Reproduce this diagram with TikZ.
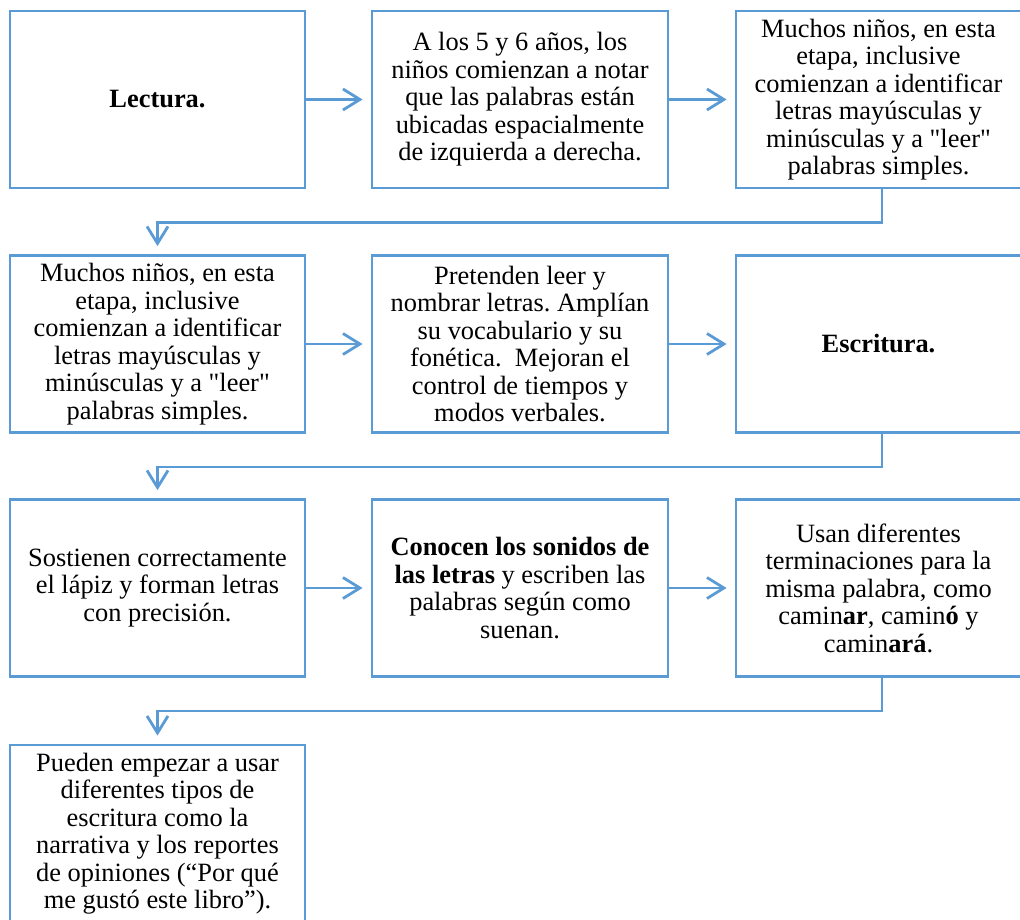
\documentclass[tikz,border=0pt]{standalone}
\usepackage{fontspec}
\setmainfont{Liberation Serif}
\usetikzlibrary{arrows.meta}
\definecolor{boxblue}{RGB}{91,155,213}
\frenchspacing

\begin{document}
\begin{tikzpicture}[x=0.5pt,y=-0.5pt,
    box/.style={draw=boxblue, line width=1.4pt, align=center, inner sep=0pt,
      minimum height=88.5pt, font=\fontsize{13.2}{13.75}\selectfont},
    colA/.style={box, minimum width=147.5pt},
    colB/.style={box, minimum width=148pt},
    colC/.style={box, minimum width=142.5pt},
    arr/.style={draw=boxblue, line width=1.4pt, shorten >=4pt,
      -{Straight Barb[length=8.5pt,width=10.5pt]}}]
    \useasboundingbox (0,0) rectangle (1020,919);

    % first row
    \node[colA] (lect) at (157.5,99.5) {\textbf{Lectura.}};
    \node[colB] (anios) at (520,99.5) {A los 5 y 6 años, los\\niños comienzan a notar\\que las palabras están\\ubicadas espacialmente\\de izquierda a derecha.};
    \node[colC] (ninosA) at (878.5,99.5) {Muchos niños, en esta\\etapa, inclusive\\comienzan a identificar\\letras mayúsculas y\\minúsculas y a \textquotedbl leer\textquotedbl\\palabras simples.};

    % second row
    \node[colA] (ninosB) at (157.5,344) {Muchos niños, en esta\\etapa, inclusive\\comienzan a identificar\\letras mayúsculas y\\minúsculas y a \textquotedbl leer\textquotedbl\\palabras simples.};
    \node[colB] (pret) at (520,344) {Pretenden leer y\\nombrar letras. Amplían\\su vocabulario y su\\fonética.\ \ Mejoran el\\control de tiempos y\\modos verbales.};
    \node[colC] (escr) at (878.5,344) {\textbf{Escritura.}};

    % third row
    \node[colA] (lapiz) at (157.5,588) {Sostienen correctamente\\el lápiz y forman letras\\con precisión.};
    \node[colB] (sonid) at (520,588) {\textbf{Conocen los sonidos de}\\\textbf{las letras} y escriben las\\palabras según como\\suenan.};
    \node[colC] (termi) at (878.5,588) {Usan diferentes\\terminaciones para la\\misma palabra, como\\camin\textbf{ar}, camin\textbf{ó} y\\camin\textbf{ará}.};

    % last row
    \node[colA] (tipos) at (157.5,833.5) {Pueden empezar a usar\\diferentes tipos de\\escritura como la\\narrativa y los reportes\\de opiniones (“Por qué\\me gustó este libro”).};

    \foreach \s/\t in {lect/anios,anios/ninosA,ninosB/pret,pret/escr,lapiz/sonid,sonid/termi}
      \draw[arr] (\s) -- (\t);
    \foreach \s/\t in {ninosA/ninosB,escr/lapiz,termi/tipos}
      \draw[arr] ([xshift=1.75pt]\s.south) -- ++(0,33) -| (\t.north);
\end{tikzpicture}
\end{document}
